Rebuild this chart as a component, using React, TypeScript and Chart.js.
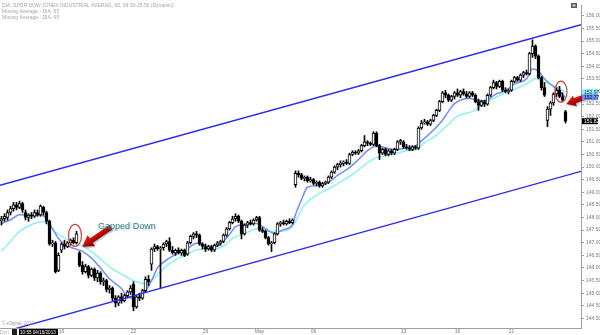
import React, { useEffect, useRef } from "react";
import { Chart, registerables } from "chart.js";
Chart.register(...registerables);

// 65-minute bars, DIA, from the last bars of Apr 10 to the first bar of May 24, 2013
const opens = [
  147.85, 147.95,
  148.0, 148.2, 148.35, 148.5, 148.4, 148.55,
  148.2, 148.0, 148.1, 148.05, 148.2, 148.1,
  148.4, 148.2, 147.85, 146.95, 147.0, 145.9,
  146.7, 146.95, 146.85, 147.0, 147.1, 147.0,
  146.6, 146.1, 145.85, 146.05, 145.7, 145.95,
  145.6, 145.8, 145.45, 145.5, 145.15, 145.2,
  144.8, 144.6, 144.85, 144.7, 144.9, 145.05,
  145.35, 144.45, 144.85, 144.8, 145.1, 145.55,
  146.15, 146.75, 146.85, 146.75, 146.8, 146.95,
  147.05, 146.7, 146.6, 146.7, 146.6, 146.7,
  146.55, 147.0, 147.25, 147.35, 147.3, 146.95,
  146.85, 146.75, 146.85, 146.7, 146.9, 147.0,
  147.05, 147.3, 147.55, 147.8, 147.95, 148.05,
  147.85, 147.35, 147.7, 147.8, 147.75, 147.9,
  148.0, 147.5, 147.45, 147.2, 146.95, 147.0,
  147.35, 147.75, 147.8, 147.75, 147.85, 147.8,
  149.3, 149.75, 149.7, 149.55, 149.6, 149.45,
  149.5, 149.35, 149.4, 149.25, 149.35, 149.4,
  149.6, 149.8, 150.0, 150.1, 150.15, 150.2,
  150.15, 150.5, 150.6, 150.55, 150.65, 150.85,
  151.0, 150.95, 150.9, 151.35, 150.85, 150.55,
  150.7, 150.5, 150.65, 150.55, 150.7, 151.0,
  151.0, 150.8, 150.75, 150.7, 150.8, 150.75,
  151.55, 151.75, 151.8, 151.7, 151.85, 152.05,
  152.25, 152.6, 152.95, 152.85, 152.65, 152.8,
  152.95, 152.85, 153.0, 152.9, 152.8, 152.95,
  152.85, 152.6, 152.45, 152.6, 152.5, 152.85,
  153.15, 153.35, 153.2, 153.4, 153.05, 153.0,
  153.05, 153.4, 153.55, 153.45, 153.65, 153.75,
  153.7, 154.5, 154.8, 154.4, 153.55, 153.15,
  151.85, 152.3, 152.55, 152.9, 153.05, 152.8,
  152.2,
];
const highs = [
  148.05, 148.15,
  148.3, 148.45, 148.6, 148.6, 148.65, 148.6,
  148.3, 148.15, 148.2, 148.3, 148.3, 148.5,
  148.45, 148.25, 147.9, 147.1, 147.05, 146.6,
  147.0, 147.1, 147.05, 147.15, 147.2, 147.45,
  146.65, 146.25, 146.15, 146.1, 146.0, 146.0,
  145.9, 145.85, 145.6, 145.55, 145.3, 145.25,
  144.9, 144.9, 145.0, 144.95, 145.1, 145.3,
  145.45, 144.9, 145.0, 145.15, 145.65, 145.7,
  146.8, 146.95, 146.9, 146.85, 147.0, 147.1,
  147.2, 146.85, 146.75, 146.8, 146.75, 146.75,
  147.05, 147.3, 147.4, 147.45, 147.35, 147.0,
  146.95, 146.9, 146.9, 146.95, 147.05, 147.1,
  147.35, 147.6, 147.85, 148.05, 148.15, 148.1,
  147.9, 147.75, 147.85, 147.9, 147.95, 148.05,
  148.05, 147.6, 147.5, 147.25, 147.05, 147.4,
  147.8, 147.85, 147.9, 147.9, 147.95, 147.95,
  149.85, 149.85, 149.75, 149.65, 149.65, 149.6,
  149.55, 149.45, 149.45, 149.4, 149.45, 149.65,
  149.85, 150.05, 150.15, 150.25, 150.25, 150.3,
  150.55, 150.65, 150.65, 150.7, 150.9, 151.25,
  151.05, 151.0, 151.4, 151.4, 150.9, 150.75,
  150.75, 150.7, 150.7, 150.75, 151.05, 151.1,
  151.05, 150.9, 150.85, 150.85, 150.85, 151.6,
  151.85, 151.9, 151.85, 151.9, 152.1, 152.3,
  152.65, 153.0, 153.05, 152.9, 152.85, 153.0,
  153.1, 153.05, 153.1, 153.0, 153.0, 153.0,
  152.9, 152.7, 152.65, 152.65, 152.9, 153.2,
  153.45, 153.4, 153.45, 153.45, 153.15, 153.1,
  153.45, 153.6, 153.6, 153.7, 153.8, 153.85,
  154.55, 155.05, 154.85, 154.45, 153.6, 153.35,
  152.4, 152.6, 152.95, 153.15, 153.2, 152.95,
  152.25,
];
const lows = [
  147.7, 147.85,
  147.9, 148.1, 148.25, 148.3, 148.35, 148.2,
  147.9, 147.85, 147.95, 148.0, 148.05, 148.05,
  148.1, 147.75, 146.9, 146.85, 145.8, 145.85,
  146.6, 146.75, 146.8, 146.9, 146.95, 146.95,
  146.05, 145.75, 145.8, 145.6, 145.65, 145.5,
  145.45, 145.35, 145.3, 145.05, 145.0, 144.7,
  144.45, 144.5, 144.6, 144.65, 144.8, 144.95,
  144.3, 144.4, 144.7, 144.75, 145.05, 145.3,
  145.9, 146.65, 146.7, 145.2, 146.7, 146.85,
  146.65, 146.55, 146.5, 146.55, 146.5, 146.45,
  146.5, 146.95, 147.15, 147.2, 146.9, 146.75,
  146.65, 146.7, 146.65, 146.65, 146.85, 146.9,
  147.0, 147.25, 147.5, 147.75, 147.85, 147.8,
  147.15, 147.3, 147.6, 147.7, 147.7, 147.85,
  147.45, 147.4, 147.15, 146.9, 146.65, 146.95,
  147.3, 147.65, 147.7, 147.7, 147.75, 147.75,
  149.2, 149.6, 149.5, 149.45, 149.4, 149.4,
  149.3, 149.25, 149.2, 149.2, 149.3, 149.35,
  149.55, 149.75, 149.9, 150.0, 150.05, 150.1,
  150.1, 150.45, 150.5, 150.5, 150.6, 150.8,
  150.85, 150.85, 150.85, 150.8, 150.3, 150.5,
  150.45, 150.45, 150.5, 150.5, 150.65, 150.9,
  150.75, 150.7, 150.65, 150.65, 150.7, 150.7,
  151.5, 151.7, 151.65, 151.65, 151.8, 152.0,
  152.2, 152.55, 152.75, 152.6, 152.6, 152.7,
  152.8, 152.75, 152.85, 152.75, 152.75, 152.8,
  152.55, 152.25, 152.4, 152.4, 152.45, 152.8,
  153.1, 153.1, 153.15, 153.0, 152.95, 152.9,
  153.0, 153.35, 153.4, 153.4, 153.55, 153.65,
  153.65, 154.35, 154.3, 153.5, 153.05, 152.8,
  151.6, 152.05, 152.45, 152.8, 152.75, 152.6,
  151.75,
];
const closes = [
  147.95, 148.05,
  148.2, 148.35, 148.5, 148.4, 148.55, 148.3,
  148.0, 148.1, 148.05, 148.2, 148.1, 148.45,
  148.2, 147.85, 146.95, 147.0, 145.85, 146.5,
  146.95, 146.85, 147.0, 147.1, 147.0, 147.35,
  146.1, 145.85, 146.05, 145.7, 145.95, 145.6,
  145.8, 145.45, 145.5, 145.15, 145.2, 144.8,
  144.6, 144.85, 144.7, 144.9, 145.05, 145.2,
  144.45, 144.85, 144.8, 145.1, 145.55, 145.45,
  146.75, 146.85, 146.75, 146.8, 146.95, 147.05,
  146.7, 146.6, 146.7, 146.6, 146.7, 146.5,
  147.0, 147.25, 147.35, 147.3, 146.95, 146.85,
  146.75, 146.85, 146.7, 146.9, 147.0, 147.05,
  147.3, 147.55, 147.8, 147.95, 148.05, 147.85,
  147.35, 147.7, 147.8, 147.75, 147.9, 148.0,
  147.5, 147.45, 147.2, 146.95, 147.0, 147.35,
  147.75, 147.8, 147.75, 147.85, 147.8, 147.9,
  149.75, 149.7, 149.55, 149.6, 149.45, 149.5,
  149.35, 149.4, 149.25, 149.35, 149.4, 149.6,
  149.8, 150.0, 150.1, 150.15, 150.2, 150.15,
  150.5, 150.6, 150.55, 150.65, 150.85, 151.0,
  150.95, 150.9, 151.35, 150.85, 150.55, 150.7,
  150.5, 150.65, 150.55, 150.7, 151.0, 151.05,
  150.8, 150.75, 150.7, 150.8, 150.75, 151.55,
  151.75, 151.8, 151.7, 151.85, 152.05, 152.25,
  152.6, 152.95, 152.85, 152.65, 152.8, 152.95,
  152.85, 153.0, 152.9, 152.8, 152.95, 152.85,
  152.6, 152.45, 152.6, 152.5, 152.85, 153.15,
  153.35, 153.2, 153.4, 153.05, 153.0, 153.05,
  153.4, 153.55, 153.45, 153.65, 153.75, 153.7,
  154.5, 154.8, 154.4, 153.55, 153.15, 152.85,
  152.3, 152.55, 152.9, 153.05, 152.8, 152.65,
  151.82,
];

// fast (blue) and slow (cyan) moving averages: [bar index, value]
const fastMA: [number, number][] = [
  [0, 147.76], [3, 147.91], [6, 148.11], [8, 148.11], [11, 148.07], [13, 148.11], [15, 147.95],
  [17, 147.56], [19, 147.17], [21, 146.94], [24, 146.78], [27, 146.66], [30, 146.39], [33, 146.0],
  [36, 145.57], [40, 145.18], [42, 144.85], [45, 144.79], [48, 145.1], [50, 145.49], [52, 146.0],
  [56, 146.39], [59, 146.59], [61, 146.66], [65, 146.98], [67, 146.94], [70, 146.78], [72, 146.86],
  [76, 147.33], [78, 147.64], [81, 147.72], [85, 147.76], [88, 147.56], [91, 147.37], [94, 147.52],
  [97, 147.72], [98, 148.11], [100, 148.7], [102, 149.2], [106, 149.28], [109, 149.4], [112, 149.67],
  [116, 149.98], [119, 150.3], [122, 150.65], [125, 150.84], [128, 150.77], [131, 150.69],
  [135, 150.77], [138, 150.84], [140, 151.04], [144, 151.47], [147, 151.86], [149, 152.21],
  [151, 152.52], [156, 152.72], [159, 152.64], [161, 152.64], [165, 152.91], [168, 153.03],
  [171, 153.3], [175, 153.5], [177, 153.89], [179, 153.81], [181, 153.5], [184, 153.19],
  [186, 153.0], [188, 152.77],
];
const slowMA: [number, number][] = [
  [0, 146.66], [3, 147.05], [6, 147.45], [10, 147.72], [14, 147.84], [16, 147.64], [19, 147.33],
  [22, 147.13], [25, 146.98], [29, 146.74], [33, 146.35], [37, 145.96], [41, 145.69], [44, 145.49],
  [48, 145.38], [51, 145.61], [55, 146.08], [59, 146.39], [62, 146.55], [66, 146.74], [70, 146.74],
  [74, 146.86], [77, 147.17], [81, 147.37], [86, 147.56], [89, 147.45], [92, 147.45], [97, 147.64],
  [98, 147.84], [101, 148.5], [105, 148.89], [109, 149.13], [114, 149.48], [118, 149.79],
  [122, 150.18], [125, 150.38], [129, 150.45], [135, 150.65], [138, 150.69], [141, 150.96],
  [145, 151.27], [149, 151.7], [152, 152.02], [157, 152.21], [161, 152.52], [166, 152.84],
  [170, 153.03], [175, 153.3], [178, 153.5], [181, 153.38], [185, 153.19], [188, 152.97],
];

// hand-drawn trend channel: [bar index, price]
const upperChannel: [number, number][] = [[-0.5, 149.28], [193.17, 155.65]];
const lowerChannel: [number, number][] = [[-0.5, 143.42], [193.17, 149.83]];

const dayTickIdx = [20, 44, 68, 86, 104, 134, 152, 170];
const dayTickLabels = ["16", "22", "26", "May", "06", "13", "16", "21"];

const legendLines = [
  "DIA, SPDR DOW JONES INDUSTRIAL AVERAG, 65, 09:30-15:50 (Dynamic)",
  "Moving Average - DIA, 65",
  "Moving Average - DIA, 65",
];
const noteText = "Gapped Down";

const FONT = '"Liberation Sans", Arial, sans-serif';

function drawArrow(ctx: CanvasRenderingContext2D, sx: number, sy: number, tx: number, ty: number, w: number, L: number, H: number) {
  const dx = tx - sx, dy = ty - sy;
  const len = Math.hypot(dx, dy);
  const ux = dx / len, uy = dy / len;
  const nx = -uy, ny = ux;
  const bx = tx - ux * L, by = ty - uy * L;
  ctx.beginPath();
  ctx.moveTo(sx + nx * w, sy + ny * w);
  ctx.lineTo(bx + nx * w, by + ny * w);
  ctx.lineTo(bx + nx * H, by + ny * H);
  ctx.lineTo(tx, ty);
  ctx.lineTo(bx - nx * H, by - ny * H);
  ctx.lineTo(bx - nx * w, by - ny * w);
  ctx.lineTo(sx - nx * w, sy - ny * w);
  ctx.closePath();
  const g = ctx.createLinearGradient(sx + nx * w, sy + ny * w, sx - nx * w, sy - ny * w);
  g.addColorStop(0, "#e01010");
  g.addColorStop(1, "#9a0000");
  ctx.fillStyle = g;
  ctx.fill();
}

const overlay = {
  id: "overlay",
  afterDraw(chart: any) {
    const ctx: CanvasRenderingContext2D = chart.ctx;
    const xs = chart.scales.x;
    const ys = chart.scales.y;
    const px = (v: number) => xs.getPixelForValue(v);
    const py = (v: number) => ys.getPixelForValue(v);
    ctx.save();

    // legend text
    ctx.font = `5px ${FONT}`;
    ctx.fillStyle = "#a6a6a6";
    ctx.textBaseline = "alphabetic";
    ctx.textAlign = "left";
    legendLines.forEach((t, k) => ctx.fillText(t, 2, 7 + 6 * k));

    // top-right icon
    ctx.fillStyle = "#5a5a5a";
    ctx.fillRect(571, 3, 6, 5);
    ctx.fillStyle = "#cfcfcf";
    ctx.fillRect(572.5, 4.5, 3, 2);

    // circles
    ctx.strokeStyle = "#c8473a";
    ctx.lineWidth = 1.2;
    ctx.beginPath();
    ctx.ellipse(px(24.5), py(147.29), 6.5, 11, 0, 0, Math.PI * 2);
    ctx.stroke();
    ctx.beginPath();
    ctx.ellipse(px(186.5), py(152.99), 6, 10.5, 0, 0, Math.PI * 2);
    ctx.stroke();

    // arrows
    ctx.save();
    ctx.shadowColor = "rgba(0,0,0,0.35)";
    ctx.shadowBlur = 2;
    ctx.shadowOffsetX = 1;
    ctx.shadowOffsetY = 1;
    drawArrow(ctx, px(36.5), py(147.62), px(26.9), py(146.84), 2.6, 11, 6.5);
    drawArrow(ctx, px(194.3), py(152.78), px(188.3), py(152.5), 2.6, 9, 5.5);
    ctx.restore();

    // note text
    ctx.save();
    ctx.font = `9px ${FONT}`;
    ctx.shadowColor = "rgba(0,0,0,0.3)";
    ctx.shadowBlur = 3;
    ctx.shadowOffsetX = 1;
    ctx.shadowOffsetY = 1;
    ctx.fillStyle = "#2f8c8c";
    ctx.fillText(noteText, px(32.2), py(147.56));
    ctx.restore();

    // price boxes on the axis
    const boxes: [number, string, string][] = [
      [slowMA[slowMA.length - 1][1], "#86f7f7", "#333"],
      [fastMA[fastMA.length - 1][1], "#6f8ff8", "#111"],
      [closes[closes.length - 1], "#000", "#fff"],
    ];
    ctx.font = `5px ${FONT}`;
    ctx.textBaseline = "middle";
    for (const [v, bg, fg] of boxes) {
      const y = py(v);
      ctx.fillStyle = bg;
      ctx.fillRect(582, y - 3, 16, 6);
      ctx.fillStyle = fg;
      ctx.fillText(v.toFixed(2), 584, y + 0.3);
    }

    // bottom-left stamps
    ctx.textBaseline = "alphabetic";
    ctx.fillStyle = "#9a9a9a";
    ctx.font = `4.5px ${FONT}`;
    ctx.fillText("© eSignal, 2013", 2, 325);
    ctx.fillStyle = "#b0b0b0";
    ctx.font = `5px ${FONT}`;
    ctx.fillText("Dyn", 0, 334);
    ctx.fillStyle = "#222";
    ctx.fillRect(12, 329, 5, 6);
    ctx.fillStyle = "#000";
    ctx.fillRect(19, 329, 39, 6);
    ctx.fillStyle = "#fff";
    ctx.font = `4.6px ${FONT}`;
    ctx.fillText("10:55 04/16/2013", 20, 334);
    ctx.restore();
  },
};

export default function App() {
  const ref = useRef<HTMLCanvasElement | null>(null);
  useEffect(() => {
    document.body.style.margin = "0";
    Chart.defaults.font.family = FONT;
    const canvas = ref.current!;
    const bodyColors = closes.map((c, i) => (c >= opens[i] ? "#ffffff" : "#000000"));
    const chart = new Chart(canvas, {
      type: "bar",
      data: {
        datasets: [
          {
            type: "line",
            label: "upper",
            data: upperChannel.map(([x, y]) => ({ x, y })),
            borderColor: "#2a2af0",
            borderWidth: 1.4,
            pointRadius: 0,
            order: 0,
          } as any,
          {
            type: "line",
            label: "lower",
            data: lowerChannel.map(([x, y]) => ({ x, y })),
            borderColor: "#2a2af0",
            borderWidth: 1.4,
            pointRadius: 0,
            order: 0,
          } as any,
          {
            type: "bar",
            label: "body",
            data: closes.map((c, i) => ({ x: i, y: [opens[i], c] })),
            backgroundColor: bodyColors,
            borderColor: "#000",
            borderWidth: 1,
            borderSkipped: false,
            barThickness: 3,
            grouped: false,
            minBarLength: 1,
            order: 1,
          } as any,
          {
            type: "bar",
            label: "wick",
            data: highs.map((h, i) => ({ x: i, y: [lows[i], h] })),
            backgroundColor: "#000",
            borderWidth: 0,
            barThickness: 1,
            grouped: false,
            order: 2,
          } as any,
          {
            type: "line",
            label: "fast",
            data: fastMA.map(([x, y]) => ({ x, y })),
            borderColor: "#6f8ff8",
            borderWidth: 1.5,
            pointRadius: 0,
            cubicInterpolationMode: "monotone",
            order: 3,
          } as any,
          {
            type: "line",
            label: "slow",
            data: slowMA.map(([x, y]) => ({ x, y })),
            borderColor: "#8ef2f2",
            borderWidth: 1.5,
            pointRadius: 0,
            cubicInterpolationMode: "monotone",
            order: 4,
          } as any,
        ],
      },
      options: {
        animation: false,
        responsive: false,
        devicePixelRatio: 1,
        layout: { padding: 0 },
        plugins: { legend: { display: false }, tooltip: { enabled: false } },
        scales: {
          x: {
            type: "linear",
            min: -0.5,
            max: 193.17,
            offset: false,
            grid: { drawOnChartArea: false, drawTicks: false, offset: false },
            border: { color: "#a0a0a0" },
            ticks: {
              autoSkip: false,
              maxRotation: 0,
              minRotation: 0,
              padding: 1,
              color: "#7a7a7a",
              font: { size: 5 },
              callback: (v: any) => {
                const k = dayTickIdx.indexOf(Number(v));
                return k >= 0 ? dayTickLabels[k] : "";
              },
            },
            afterBuildTicks: (s: any) => {
              s.ticks = dayTickIdx.map((v) => ({ value: v }));
            },
            afterFit: (s: any) => {
              s.height = 7;
            },
          },
          y: {
            type: "linear",
            position: "right",
            min: 143.617,
            max: 156.43,
            grid: { drawOnChartArea: false, tickLength: 3, color: "#a0a0a0" },
            border: { color: "#a0a0a0" },
            ticks: {
              stepSize: 0.5,
              includeBounds: false,
              maxTicksLimit: 100,
              autoSkip: false,
              padding: 2,
              color: "#7a7a7a",
              font: { size: 5 },
              callback: (v: any) => Number(v).toFixed(2),
            },
            afterFit: (s: any) => {
              s.width = 19;
            },
          },
        },
      } as any,
      plugins: [overlay],
    });
    return () => chart.destroy();
  }, []);
  return (
    <div style={{ width: 600, height: 335, background: "#fff" }}>
      <canvas ref={ref} width={600} height={335} style={{ display: "block" }} />
    </div>
  );
}
